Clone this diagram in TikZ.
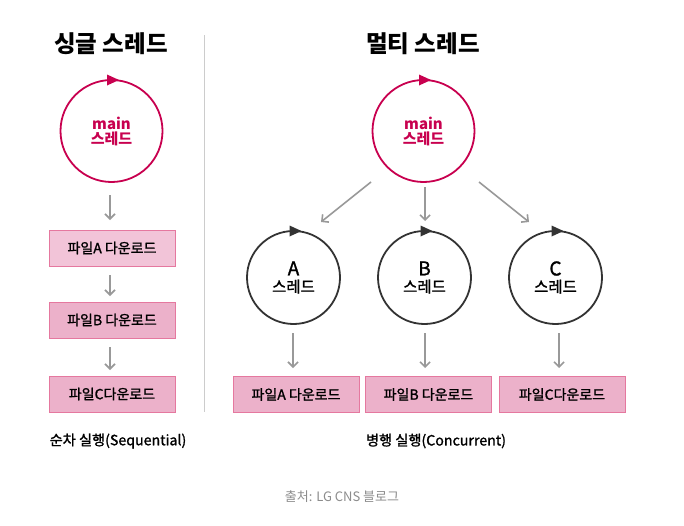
\documentclass[tikz,border=0pt]{standalone}
\usepackage{fontspec}
\setmainfont{Noto Sans CJK KR}
\newfontfamily\medfont[FakeBold=1.3]{Noto Sans CJK KR}
\usetikzlibrary{arrows.meta}
\definecolor{crim}{HTML}{C8004F}
\definecolor{dk}{HTML}{333333}
\definecolor{arr}{HTML}{999999}
\definecolor{pinkA}{HTML}{F2C4D8}
\definecolor{pinkB}{HTML}{ECB1CA}
\definecolor{pinkline}{HTML}{E5789F}
\begin{document}
\begin{tikzpicture}[x=1pt,y=-1pt,
  mainc/.style={circle,draw=crim,line width=1.8pt,minimum size=102pt,inner sep=0pt,text=crim,font=\fontsize{15}{18}\selectfont\bfseries,align=center},
  subc/.style={circle,draw=dk,line width=1.8pt,minimum size=93pt,inner sep=0pt,text=black,font=\fontsize{15.5}{19}\selectfont\medfont,align=center},
  fbox/.style={draw=pinkline,line width=0.8pt,fill=pinkB,minimum width=126pt,minimum height=36pt,inner sep=0pt,font=\fontsize{14}{16}\selectfont\medfont},
  conn/.style={draw=arr,line width=1.6pt,-{Straight Barb[length=5pt,width=10pt]}},
  ttl/.style={font=\fontsize{23.5}{27}\selectfont\bfseries},
  captxt/.style={font=\fontsize{14.2}{17}\selectfont\medfont},
]
\useasboundingbox (0,0) rectangle (684,525);
\fill[white] (0,0) rectangle (684,525);

% titles
\node[ttl] (t1) at (111,44) {싱글 스레드};
\node[ttl] (t2) at (423,44) {멀티 스레드};

% divider
\draw[draw=black!20,line width=0.8pt] (204,35) -- (204,412);

% single thread
\node[mainc] (m1) at (111.5,131) {main\\[-3pt]스레드};
\fill[crim] (107,74.5) -- (119,80) -- (107,85.5) -- cycle;
\node[fbox,fill=pinkA] (sa) at (112,248) {파일A 다운로드};
\node[fbox] (sb) at (112,320) {파일B 다운로드};
\node[fbox] (sc) at (112,394) {파일C다운로드};
\draw[conn] (110,195) -- (110,220);
\draw[conn] (110,275) -- (110,296);
\draw[conn] (110,347) -- (110,370);
\node[captxt] (c1) at (118,441) {순차 실행(Sequential)};

% multi thread
\node[mainc] (m2) at (423.5,131) {main\\[-3pt]스레드};
\fill[crim] (419,74.5) -- (431,80) -- (419,85.5) -- cycle;

\node[subc] (ta) at (293.5,277.5) {\fontsize{19}{21}\selectfont A\\[-2pt]스레드};
\node[subc] (tb) at (424.5,277.5) {\fontsize{19}{21}\selectfont B\\[-2pt]스레드};
\node[subc] (tc) at (555.5,277.5) {\fontsize{19}{21}\selectfont C\\[-2pt]스레드};
\foreach \x in {293.5,424.5,555.5}{
  \fill[dk] (\x-4,225.5) -- (\x+8,231) -- (\x-4,236.5) -- cycle;
}

\coordinate (l0) at (371,182);
\coordinate (l1) at (321,222);
\coordinate (r0) at (479,182);
\coordinate (r1) at (529,222);
\draw[conn] (l0) -- (l1);
\draw[conn] (425,187) -- (425,221);
\draw[conn] (r0) -- (r1);

\node[fbox] (fa) at (296,394.5) {파일A 다운로드};
\node[fbox] (fb) at (428.5,394.5) {파일B 다운로드};
\node[fbox] (fc) at (562,394.5) {파일C다운로드};
\draw[conn] (293,333) -- (293,368);
\draw[conn] (425,333) -- (425,368);
\draw[conn] (559,333) -- (559,368);

\node[captxt] (c2) at (436,441) {병행 실행(Concurrent)};
\node[font=\fontsize{13}{15}\selectfont,text=black!45] (src) at (342,497) {출처: LG CNS 블로그};
\end{tikzpicture}
\end{document}
